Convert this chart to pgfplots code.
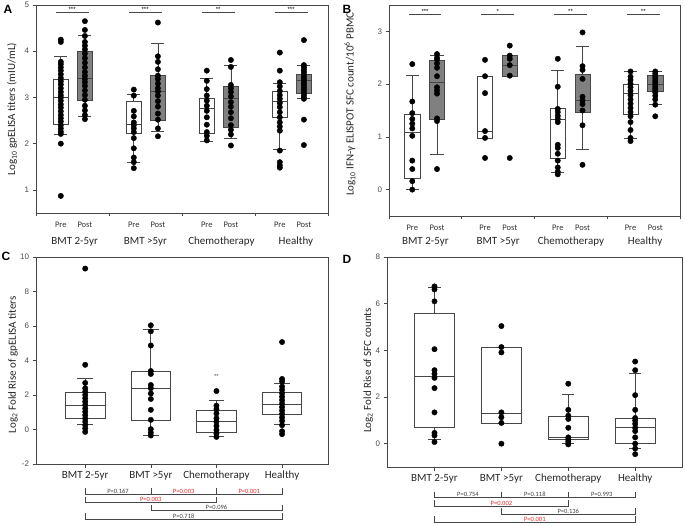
\documentclass[border=0pt]{standalone}
\usepackage{fontspec}
\setmainfont{Carlito}
\newfontfamily\arialf{Liberation Sans}
\usepackage{pgfplots}
\pgfplotsset{compat=1.18}
\usepgfplotslibrary{statistics}
\definecolor{edge}{RGB}{70,70,70}
\definecolor{postfill}{RGB}{128,128,128}
\definecolor{pred}{RGB}{230,40,40}
\pgfplotsset{
  panel/.style={scale only axis, clip=false,
    axis line style={edge, line width=0.7pt},
    xtick pos=bottom, ytick pos=left, tick align=outside,
    major tick length=3.5pt, tick style={edge, line width=0.6pt},
    yticklabel style={font=\arialf\fontsize{8}{9}\selectfont, text=black!70},
    /pgf/number format/assume math mode=true,
    boxplot/draw direction=y,
    ylabel style={font=\fontsize{11}{13}\selectfont, anchor=center, text=black!85}},
  prepost/.style={xmin=0, xmax=4,
    xtick={0.34,0.67,1.34,1.67,2.34,2.67,3.34,3.67},
    xticklabels={Pre,Post,Pre,Post,Pre,Post,Pre,Post},
    xticklabel style={font=\fontsize{8.5}{9}\selectfont, text=black!80, yshift=-2pt},
    xtick style={draw=none},
    extra x ticks={0,1,2,3,4}, extra x tick labels={},
    extra x tick style={xtick style={draw=edge}},
    boxplot/box extend=0.21, boxplot/whisker extend=0.18},
  prebox/.style={draw=edge, fill=white, line width=0.7pt},
  postbox/.style={draw=edge, fill=postfill, line width=0.7pt},
  wbox/.style={draw=edge, fill=white, line width=0.7pt},
}
\newcommand{\bx}[7]{\addplot[#1, boxplot prepared={draw position=#2, lower whisker=#3, lower quartile=#4, median=#5, upper quartile=#6, upper whisker=#7}] coordinates {};}
\newcommand{\pts}[1]{\addplot[only marks, mark=*, mark size=2.7pt, black] coordinates {#1};}
% significance line with stars: x1, x2, y, stars
\newcommand{\sig}[4]{\draw[edge, line width=0.7pt] (axis cs:#1,#3) -- (axis cs:#2,#3);
  \node[font=\arialf\fontsize{6}{6}\selectfont, inner sep=0pt, anchor=base] at ([yshift=1pt]axis cs:{#1/2+#2/2},#3) {#4};}
\newcommand{\grp}[3]{\node[font=\fontsize{11}{13}\selectfont, text=black!85] at ([yshift=#3]axis cs:#1) {#2};}
% bracket: x1, x2, mid, ymin, offset, color, text
\newcommand{\brk}[7]{%
  \draw[edge, line width=0.6pt] ([yshift={6pt-#5pt}]axis cs:#1,#4) -- ([yshift={-#5pt}]axis cs:#1,#4) -- ([yshift={-#5pt}]axis cs:#2,#4) -- ([yshift={6pt-#5pt}]axis cs:#2,#4);
  \node[font=\fontsize{6.5}{7}\selectfont, text=#6, inner sep=0pt, anchor=base] at ([yshift={1pt-#5pt}]axis cs:#3,#4) {#7};}
\begin{document}
\begin{tikzpicture}
\useasboundingbox (0,0) rectangle (685pt,-526pt);
\node[font=\arialf\bfseries\fontsize{12}{13}\selectfont] at (8pt,-9pt) {A};
\node[font=\arialf\bfseries\fontsize{12}{13}\selectfont] at (347pt,-9pt) {B};
\node[font=\arialf\bfseries\fontsize{12}{13}\selectfont] at (6pt,-256pt) {C};
\node[font=\arialf\bfseries\fontsize{12}{13}\selectfont] at (347pt,-259pt) {D};
% ---------------- Panel A
\begin{axis}[panel, prepost, at={(36pt,-213pt)}, anchor=south west, width=292pt, height=208pt,
  ymin=0.5, ymax=5, ytick={1,2,3,4,5},
  ylabel={Log\textsubscript{10} gpELISA titers (mIU/mL)},
  ylabel style={at={(axis description cs:-0.082,0.5)}}]
\bx{prebox}{0.34}{2.21}{2.41}{3.0}{3.40}{3.89}
\bx{postbox}{0.67}{2.59}{2.94}{3.41}{3.99}{4.34}
\bx{prebox}{1.34}{1.6}{2.23}{2.41}{2.92}{3.06}
\bx{postbox}{1.67}{2.26}{2.51}{3.13}{3.48}{4.17}
\bx{prebox}{2.34}{2.05}{2.23}{2.77}{2.97}{3.42}
\bx{postbox}{2.67}{2.11}{2.35}{2.98}{3.25}{3.70}
\bx{prebox}{3.34}{1.87}{2.58}{2.92}{3.13}{3.30}
\bx{postbox}{3.67}{2.97}{3.08}{3.36}{3.51}{3.70}
\pts{(0.34,4.25)(0.34,4.2)(0.34,3.77)(0.34,3.72)(0.34,3.65)(0.34,3.58)(0.34,3.5)(0.34,3.42)(0.34,3.35)(0.34,3.28)(0.34,3.2)(0.34,3.12)(0.34,3.05)(0.34,3.0)(0.34,2.93)(0.34,2.85)(0.34,2.78)(0.34,2.7)(0.34,2.62)(0.34,2.55)(0.34,2.48)(0.34,2.4)(0.34,2.33)(0.34,2.26)(0.34,2.21)(0.34,2.0)(0.34,0.87)}
\pts{(0.67,4.65)(0.67,4.46)(0.67,4.33)(0.67,4.2)(0.67,4.12)(0.67,4.04)(0.67,3.95)(0.67,3.85)(0.67,3.75)(0.67,3.65)(0.67,3.55)(0.67,3.47)(0.67,3.4)(0.67,3.33)(0.67,3.25)(0.67,3.15)(0.67,3.05)(0.67,2.95)(0.67,2.82)(0.67,2.72)(0.67,2.62)(0.67,2.53)}
\pts{(1.34,3.17)(1.34,3.04)(1.34,2.71)(1.34,2.59)(1.34,2.46)(1.34,2.4)(1.34,2.33)(1.34,2.25)(1.34,2.12)(1.34,1.9)(1.34,1.7)(1.34,1.6)(1.34,1.47)}
\pts{(1.67,4.62)(1.67,3.89)(1.67,3.77)(1.67,3.61)(1.67,3.47)(1.67,3.4)(1.67,3.3)(1.67,3.2)(1.67,3.13)(1.67,3.04)(1.67,2.92)(1.67,2.8)(1.67,2.65)(1.67,2.52)(1.67,2.33)(1.67,2.16)}
\pts{(2.34,3.58)(2.34,3.36)(2.34,3.18)(2.34,3.04)(2.34,2.93)(2.34,2.82)(2.34,2.71)(2.34,2.57)(2.34,2.41)(2.34,2.25)(2.34,2.17)(2.34,2.07)}
\pts{(2.67,3.81)(2.67,3.66)(2.67,3.27)(2.67,3.2)(2.67,3.12)(2.67,3.02)(2.67,2.9)(2.67,2.8)(2.67,2.68)(2.67,2.55)(2.67,2.4)(2.67,2.3)(2.67,2.2)(2.67,1.96)}
\pts{(3.34,3.97)(3.34,3.58)(3.34,3.33)(3.34,3.24)(3.34,3.14)(3.34,3.05)(3.34,2.97)(3.34,2.88)(3.34,2.79)(3.34,2.68)(3.34,2.57)(3.34,2.46)(3.34,2.37)(3.34,2.28)(3.34,1.85)(3.34,1.6)(3.34,1.53)(3.34,1.48)}
\pts{(3.67,4.24)(3.67,3.7)(3.67,3.65)(3.67,3.6)(3.67,3.55)(3.67,3.5)(3.67,3.45)(3.67,3.4)(3.67,3.35)(3.67,3.3)(3.67,3.25)(3.67,3.2)(3.67,3.15)(3.67,3.1)(3.67,3.05)(3.67,3.0)(3.67,2.97)(3.67,2.52)(3.67,1.97)}
\sig{0.27}{0.72}{4.84}{***}
\sig{1.27}{1.72}{4.84}{***}
\sig{2.27}{2.72}{4.84}{**}
\sig{3.27}{3.72}{4.84}{***}
\grp{0.53,0.5}{BMT 2-5yr}{-29pt}
\grp{1.5,0.5}{BMT >5yr}{-29pt}
\grp{2.54,0.5}{Chemotherapy}{-29pt}
\grp{3.56,0.5}{Healthy}{-29pt}
\end{axis}
% ---------------- Panel B
\begin{axis}[panel, prepost, at={(389pt,-216pt)}, anchor=south west, width=291pt, height=211pt,
  xtick={0.32,0.66,1.32,1.66,2.32,2.66,3.32,3.66},
  ymin=-0.5, ymax=3.5, ytick={0,1,2,3},
  ylabel={Log\textsubscript{10} IFN-γ ELISPOT SFC count/10\textsuperscript{6} PBMC},
  ylabel style={at={(axis description cs:-0.134,0.53)}}]
\bx{prebox}{0.32}{0.0}{0.22}{1.09}{1.42}{2.17}
\bx{postbox}{0.66}{0.66}{1.34}{2.03}{2.46}{2.55}
\bx{prebox}{1.32}{0.98}{0.98}{1.11}{2.15}{2.15}
\bx{postbox}{1.66}{2.15}{2.15}{2.36}{2.54}{2.54}
\bx{prebox}{2.32}{0.32}{0.6}{1.33}{1.54}{2.27}
\bx{postbox}{2.66}{0.77}{1.47}{1.69}{2.18}{2.71}
\bx{prebox}{3.32}{0.97}{1.42}{1.82}{1.99}{2.24}
\bx{postbox}{3.66}{1.61}{1.87}{2.0}{2.17}{2.24}
\pts{(0.32,2.38)(0.32,1.67)(0.32,1.45)(0.32,1.34)(0.32,1.25)(0.32,1.16)(0.32,1.02)(0.32,0.55)(0.32,0.39)(0.32,0.16)(0.32,0.0)}
\pts{(0.66,2.57)(0.66,2.5)(0.66,2.46)(0.66,2.39)(0.66,2.31)(0.66,2.15)(0.66,1.94)(0.66,1.88)(0.66,1.82)(0.66,1.35)(0.66,1.3)(0.66,0.39)}
\pts{(1.32,2.46)(1.32,2.15)(1.32,1.83)(1.32,1.11)(1.32,0.98)(1.32,0.6)}
\pts{(1.66,2.73)(1.66,2.54)(1.66,2.48)(1.66,2.36)(1.66,2.16)(1.66,0.6)}
\pts{(2.32,2.48)(2.32,1.95)(2.32,1.53)(2.32,1.47)(2.32,1.4)(2.32,1.34)(2.32,1.28)(2.32,0.85)(2.32,0.79)(2.32,0.68)(2.32,0.55)(2.32,0.42)(2.32,0.34)(2.32,0.29)}
\pts{(2.66,2.98)(2.66,2.34)(2.66,2.27)(2.66,2.1)(2.66,1.76)(2.66,1.69)(2.66,1.62)(2.66,1.5)(2.66,1.22)(2.66,0.47)}
\pts{(3.32,2.24)(3.32,2.14)(3.32,2.08)(3.32,2.01)(3.32,1.94)(3.32,1.87)(3.32,1.79)(3.32,1.71)(3.32,1.63)(3.32,1.55)(3.32,1.47)(3.32,1.39)(3.32,1.28)(3.32,1.13)(3.32,0.98)(3.32,0.92)}
\pts{(3.66,2.24)(3.66,2.2)(3.66,2.16)(3.66,2.12)(3.66,2.08)(3.66,2.04)(3.66,2.0)(3.66,1.96)(3.66,1.92)(3.66,1.88)(3.66,1.84)(3.66,1.78)(3.66,1.71)(3.66,1.61)(3.66,1.39)}
\sig{0.27}{0.72}{3.32}{***}
\sig{1.27}{1.72}{3.32}{*}
\sig{2.27}{2.72}{3.32}{**}
\sig{3.27}{3.72}{3.32}{**}
\grp{0.5,-0.5}{BMT 2-5yr}{-26pt}
\grp{1.5,-0.5}{BMT >5yr}{-26pt}
\grp{2.5,-0.5}{Chemotherapy}{-26pt}
\grp{3.52,-0.5}{Healthy}{-26pt}
\end{axis}
% ---------------- Panel C
\begin{axis}[panel, at={(36pt,-464pt)}, anchor=south west, width=292pt, height=207pt,
  xmin=0.25, xmax=4.70, ymin=-2, ymax=10, ytick={-2,0,2,4,6,8,10},
  xtick={1,2,3,4}, xticklabels={BMT 2-5yr,BMT >5yr,Chemotherapy,Healthy},
  xticklabel style={font=\fontsize{11}{13}\selectfont, text=black!85},
  boxplot/box extend=0.6, boxplot/whisker extend=0.24,
  ylabel={Log\textsubscript{2} Fold Rise of gpELISA titers},
  ylabel style={at={(axis description cs:-0.079,0.48)}}]
\bx{wbox}{1}{0.29}{0.64}{1.42}{2.14}{2.97}
\bx{wbox}{2}{-0.35}{0.54}{2.39}{3.36}{5.81}
\bx{wbox}{3}{-0.39}{-0.16}{0.48}{1.09}{1.71}
\bx{wbox}{4}{0.29}{0.88}{1.46}{2.16}{2.68}
\pts{(1,9.33)(1,3.75)(1,2.7)(1,2.39)(1,2.19)(1,2.0)(1,1.81)(1,1.61)(1,1.42)(1,1.22)(1,1.03)(1,0.83)(1,0.64)(1,0.45)(1,0.25)(1,0.06)(1,-0.14)}
\pts{(2,6.04)(2,5.69)(2,4.87)(2,3.39)(2,3.22)(2,2.58)(2,2.39)(2,2.09)(2,1.77)(2,1.14)(2,0.56)(2,0.02)(2,-0.18)(2,-0.35)}
\pts{(3,2.23)(3,1.38)(3,1.18)(3,0.93)(3,0.64)(3,0.45)(3,0.21)(3,-0.04)(3,-0.24)(3,-0.43)}
\pts{(4,5.07)(4,2.93)(4,2.78)(4,2.49)(4,2.3)(4,2.1)(4,1.9)(4,1.7)(4,1.5)(4,1.3)(4,1.1)(4,0.9)(4,0.7)(4,0.5)(4,0.25)(4,-0.1)(4,-0.27)}
\node[font=\arialf\fontsize{6}{6}\selectfont, text=black!70] at (axis cs:3,3.1) {**};
\brk{1}{2}{1.5}{-2}{30}{black!75}{P=0.167}
\brk{2}{3}{2.5}{-2}{30}{pred}{P=0.003}
\brk{3}{4}{3.5}{-2}{30}{pred}{P=0.001}
\brk{1}{3}{2}{-2}{38.7}{pred}{P=0.003}
\brk{2}{4}{3}{-2}{46.7}{black!75}{P=0.096}
\brk{1}{4}{2.5}{-2}{55.3}{black!75}{P=0.718}
\end{axis}
% ---------------- Panel D
\begin{axis}[panel, at={(387pt,-467pt)}, anchor=south west, width=295pt, height=210pt,
  xmin=0.29, xmax=4.70, ymin=-1, ymax=8, ytick={0,2,4,6,8},
  xtick={1,2,3,4}, xticklabels={BMT 2-5yr,BMT >5yr,Chemotherapy,Healthy},
  xticklabel style={font=\fontsize{11}{13}\selectfont, text=black!85},
  boxplot/box extend=0.6, boxplot/whisker extend=0.18,
  ylabel={Log\textsubscript{2} Fold Rise of SFC counts},
  ylabel style={at={(axis description cs:-0.064,0.46)}}]
\bx{wbox}{1}{0.17}{0.68}{2.88}{5.58}{6.68}
\bx{wbox}{2}{0.89}{0.89}{1.28}{4.14}{4.14}
\bx{wbox}{3}{0.0}{0.17}{0.27}{1.17}{2.1}
\bx{wbox}{4}{-0.21}{0.0}{0.68}{1.1}{3.03}
\pts{(1,6.74)(1,6.61)(1,6.1)(1,4.05)(1,3.15)(1,3.0)(1,2.82)(1,2.38)(1,1.34)(1,0.46)(1,0.35)(1,0.07)}
\pts{(2,5.04)(2,4.14)(2,3.91)(2,1.34)(2,1.13)(2,0.89)(2,0.0)}
\pts{(3,2.57)(3,1.45)(3,1.2)(3,1.06)(3,0.68)(3,0.27)(3,0.17)(3,0.08)(3,-0.03)}
\pts{(4,3.52)(4,3.15)(4,2.08)(4,1.45)(4,1.1)(4,0.99)(4,0.85)(4,0.68)(4,0.54)(4,0.27)(4,0.0)(4,-0.21)(4,-0.45)}
\brk{1}{2}{1.5}{-1}{30.7}{black!75}{P=0.754}
\brk{2}{3}{2.5}{-1}{30.7}{black!75}{P=0.118}
\brk{3}{4}{3.5}{-1}{30.7}{black!75}{P=0.993}
\brk{1}{3}{2}{-1}{39}{pred}{P=0.002}
\brk{2}{4}{3}{-1}{47.3}{black!75}{P=0.136}
\brk{1}{4}{2.5}{-1}{55.3}{pred}{P=0.001}
\end{axis}
\end{tikzpicture}
\end{document}
